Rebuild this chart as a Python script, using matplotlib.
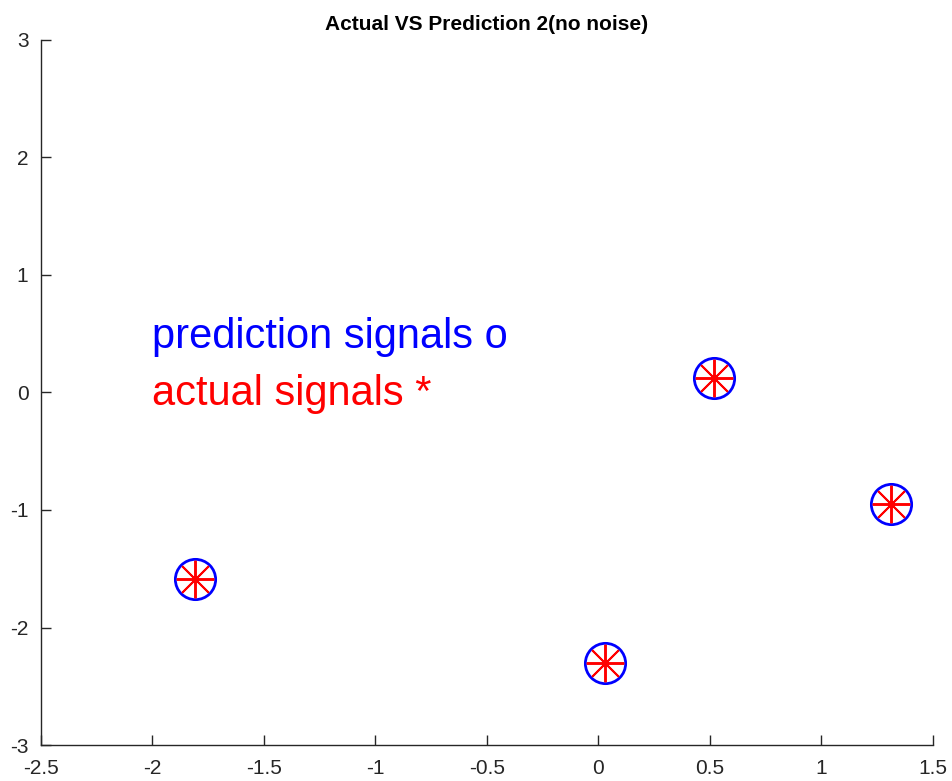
import matplotlib
matplotlib.use("Agg")
import matplotlib.pyplot as plt
import numpy as np

plt.rcParams['font.family'] = ['Liberation Sans', 'DejaVu Sans']

# signal positions (prediction matches actual, no noise)
actual_x = [-1.81, 0.03, 0.52, 1.31]
actual_y = [-1.59, -2.30, 0.12, -0.95]
pred_x = [-1.81, 0.03, 0.52, 1.31]
pred_y = [-1.59, -2.30, 0.12, -0.95]

xticks = [-2.5, -2, -1.5, -1, -0.5, 0, 0.5, 1, 1.5]
yticks = [-3, -2, -1, 0, 1, 2, 3]

fig = plt.figure(figsize=(9.53, 7.81), dpi=100)
ax = fig.add_axes([0.043, 0.046, 0.936, 0.903])

ax.plot(pred_x, pred_y, linestyle='none', marker='o', markersize=29,
        markerfacecolor='none', markeredgecolor='#0000ff', markeredgewidth=2)
ax.plot(actual_x, actual_y, linestyle='none', marker=(8, 2, 0), markersize=27,
        color='#ff0000', markeredgewidth=1.4)

ax.text(-2, 0.47, 'prediction signals o', color='#0000ff', fontsize=30,
        va='center', ha='left')
ax.text(-2, -0.01, 'actual signals *', color='#ff0000', fontsize=30,
        va='center', ha='left')

ax.set_xlim(-2.5, 1.5)
ax.set_ylim(-3, 3)
ax.set_xticks(xticks)
ax.set_yticks(yticks)
ax.set_xticklabels(['%g' % t for t in xticks])
ax.set_yticklabels(['%g' % t for t in yticks])
ax.tick_params(direction='in', length=7, width=1, labelsize=15,
               colors='#262626')
ax.tick_params(axis='x', pad=10)
ax.tick_params(axis='y', pad=9)
for side in ['top', 'right']:
    ax.spines[side].set_visible(False)
for side in ['left', 'bottom']:
    ax.spines[side].set_color('#262626')
    ax.spines[side].set_linewidth(1)

ax.set_title('Actual VS Prediction 2(no noise)', fontsize=15, fontweight='bold',
             pad=7)

fig.savefig('out.png', dpi=100)
